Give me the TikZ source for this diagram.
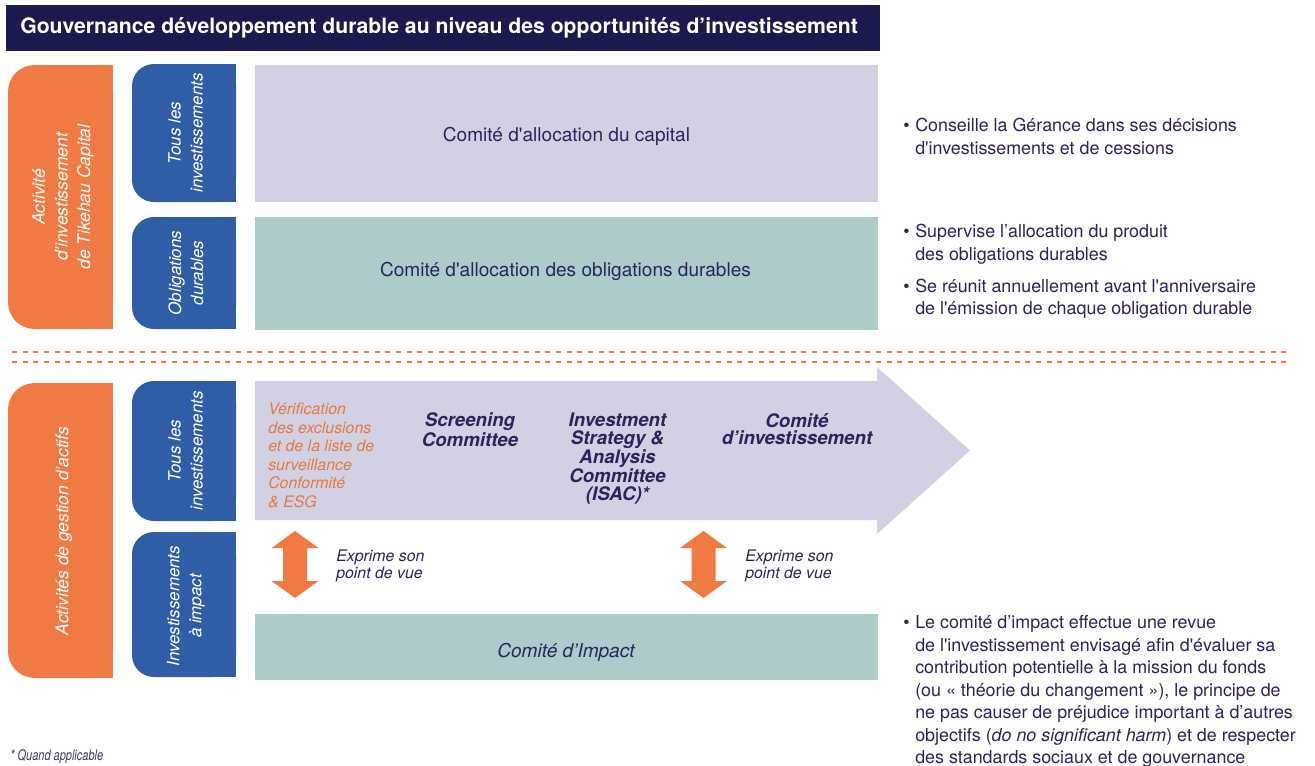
\documentclass[tikz,border=0pt]{standalone}
\usepackage{fontspec}
\usepackage{graphicx}
\newfontfamily\hv{TeX Gyre Heros}
\definecolor{navyBar}{HTML}{1B1A4F}
\definecolor{orangeC}{HTML}{EF7A44}
\definecolor{blueC}{HTML}{2F5EA6}
\definecolor{lavC}{HTML}{D2D1E4}
\definecolor{tealC}{HTML}{ACCBCA}
\definecolor{textC}{HTML}{27265C}
\definecolor{orangeT}{HTML}{E3793F}
\definecolor{footC}{HTML}{3D3C6B}
\begin{document}
\begin{tikzpicture}[x=0.75pt,y=-0.75pt,
  titletxt/.style={font=\bfseries\fontsize{15.9}{18}\selectfont, text=white, inner sep=0, anchor=west},
  boxlbl/.style={font=\fontsize{14.3}{17}\selectfont, text=textC, inner sep=0},
  boxlblit/.style={font=\itshape\fontsize{14.3}{17}\selectfont, text=textC, inner sep=0},
  vtab/.style={font=\itshape\fontsize{12.7}{16.5}\selectfont, text=white, rotate=90, align=center, inner sep=0},
  otab/.style={font=\itshape\fontsize{13.1}{16.9}\selectfont, text=white, rotate=90, align=center, inner sep=0},
  rtxt/.style={font=\fontsize{13.4}{16.9}\selectfont, text=textC, align=left, anchor=west, inner sep=0},
  boldit/.style={font=\bfseries\itshape\fontsize{14}{13.4}\selectfont, text=textC, align=center, inner sep=0},
  orit/.style={font=\itshape\fontsize{11.9}{13.9}\selectfont, text=orangeT, align=left, anchor=west, inner sep=0},
  expr/.style={font=\itshape\fontsize{11.9}{13.1}\selectfont, text=textC, align=left, anchor=west, inner sep=0},
  dblarrow/.pic={\fill[orangeC] (0,-33.5) -- (23.5,-16.5) -- (12,-16.5) -- (12,16.5) -- (23.5,16.5) -- (0,33.5) -- (-23.5,16.5) -- (-12,16.5) -- (-12,-16.5) -- (-23.5,-16.5) -- cycle;}
]
\hv
\useasboundingbox[fill=white] (0,0) rectangle (1315,765);

% title bar
\fill[navyBar] (6,5) rectangle (880,51);
\node[titletxt] (title) at (20,27.6) {Gouvernance développement durable au niveau des opportunités d’investissement};

% upper orange tab
\fill[orangeC, rounded corners=20pt] (8,65) rectangle (113,329);
\fill[orangeC] (60,65) rectangle (113,329);
\node[otab] (oa) at (63,197) {Activité\\d’investissement\\de Tikehau Capital};

% upper blue tabs
\fill[blueC, rounded corners=16.5pt] (132,64) rectangle (236,202);
\fill[blueC] (184,64) rectangle (236,202);
\node[vtab] (ba) at (185.5,133) {Tous les\\investissements};
\fill[blueC, rounded corners=16.5pt] (132,217) rectangle (236,329);
\fill[blueC] (184,217) rectangle (236,329);
\node[vtab] (bb) at (186,273) {Obligations\\durables};

% upper boxes
\fill[lavC] (255,65) rectangle (878,202);
\node[boxlbl] (cap) at (566.5,136.5) {Comité d'allocation du capital};
\fill[tealC] (255,217) rectangle (878,330);
\node[boxlbl] (obl) at (565.5,271.5) {Comité d'allocation des obligations durables};

% right texts upper
\node[rtxt] (r1) at (903,136.6) {\makebox[9pt][l]{•}Conseille la Gérance dans ses décisions\\\hspace*{9pt}d'investissements et de cessions};
\node[rtxt] (r2) at (903,244.3) {\makebox[9pt][l]{•}Supervise l’allocation du produit\\\hspace*{9pt}des obligations durables};
\node[rtxt] (r3) at (903,298.7) {\makebox[9pt][l]{•}Se réunit annuellement avant l'anniversaire\\\hspace*{9pt}de l'émission de chaque obligation durable};

% dashed separators
\draw[orangeC, line width=1.5pt, dash pattern=on 3.75pt off 4.25pt] (12,352) -- (1287,352);
\draw[orangeC, line width=1.5pt, dash pattern=on 3.75pt off 4.25pt] (12,362) -- (1287,362);

% lower orange tab
\fill[orangeC, rounded corners=20pt] (8,383) rectangle (113,678);
\fill[orangeC] (60,383) rectangle (113,678);
\node[otab] (ob) at (64,531) {Activités de gestion d’actifs};

% lower blue tabs
\fill[blueC, rounded corners=16.5pt] (132,381) rectangle (236,521);
\fill[blueC] (184,381) rectangle (236,521);
\node[vtab] (bc) at (185.5,451) {Tous les\\investissements};
\fill[blueC, rounded corners=16.5pt] (132,532) rectangle (236,677);
\fill[blueC] (184,532) rectangle (236,677);
\node[vtab] (bd) at (186,606) {Investissements\\à impact};

% big process arrow
\fill[lavC] (255,381) -- (877,381) -- (877,367) -- (970,450.5) -- (877,534) -- (877,520) -- (255,520) -- cycle;
\node[orit] (verif) at (268,455.3) {Vérification\\des exclusions\\et de la liste de\\surveillance\\Conformité\\\& ESG};
\node[boldit] (scr) at (470,429.7) {Screening\\Committee};
\node[boldit] (isac) at (617.5,458.6) {Investment\\Strategy \&\\Analysis\\Committee\\(ISAC)*};
\node[boldit] (ci) at (797,429) {Comité\\d’investissement};

% double arrows
\pic at (295,564.5) {dblarrow};
\pic at (703.5,564.5) {dblarrow};
\node[expr] (e1) at (336,566) {Exprime son\\point de vue};
\node[expr] (e2) at (745,566) {Exprime son\\point de vue};

% impact committee
\fill[tealC] (255,614) rectangle (878,680);
\node[boxlblit] (imp) at (566,652) {Comité d’Impact};

% right text lower
\node[rtxt] (r4) at (903,691.5) {\makebox[9pt][l]{•}Le comité d’impact effectue une revue\\\hspace*{9pt}de l'investissement envisagé afin d'évaluer sa\\\hspace*{9pt}contribution potentielle à la mission du fonds\\\hspace*{9pt}(ou « théorie du changement »), le principe de\\\hspace*{9pt}ne pas causer de préjudice important à d’autres\\\hspace*{9pt}objectifs (\textit{do no significant harm}) et de respecter\\\hspace*{9pt}des standards sociaux et de gouvernance};

% footnote
\node[font=\itshape\fontsize{11}{13}\selectfont, text=footC, anchor=west, inner sep=0] (foot) at (10,756.2) {\scalebox{0.75}[1]{* Quand applicable}};
\end{tikzpicture}
\end{document}
